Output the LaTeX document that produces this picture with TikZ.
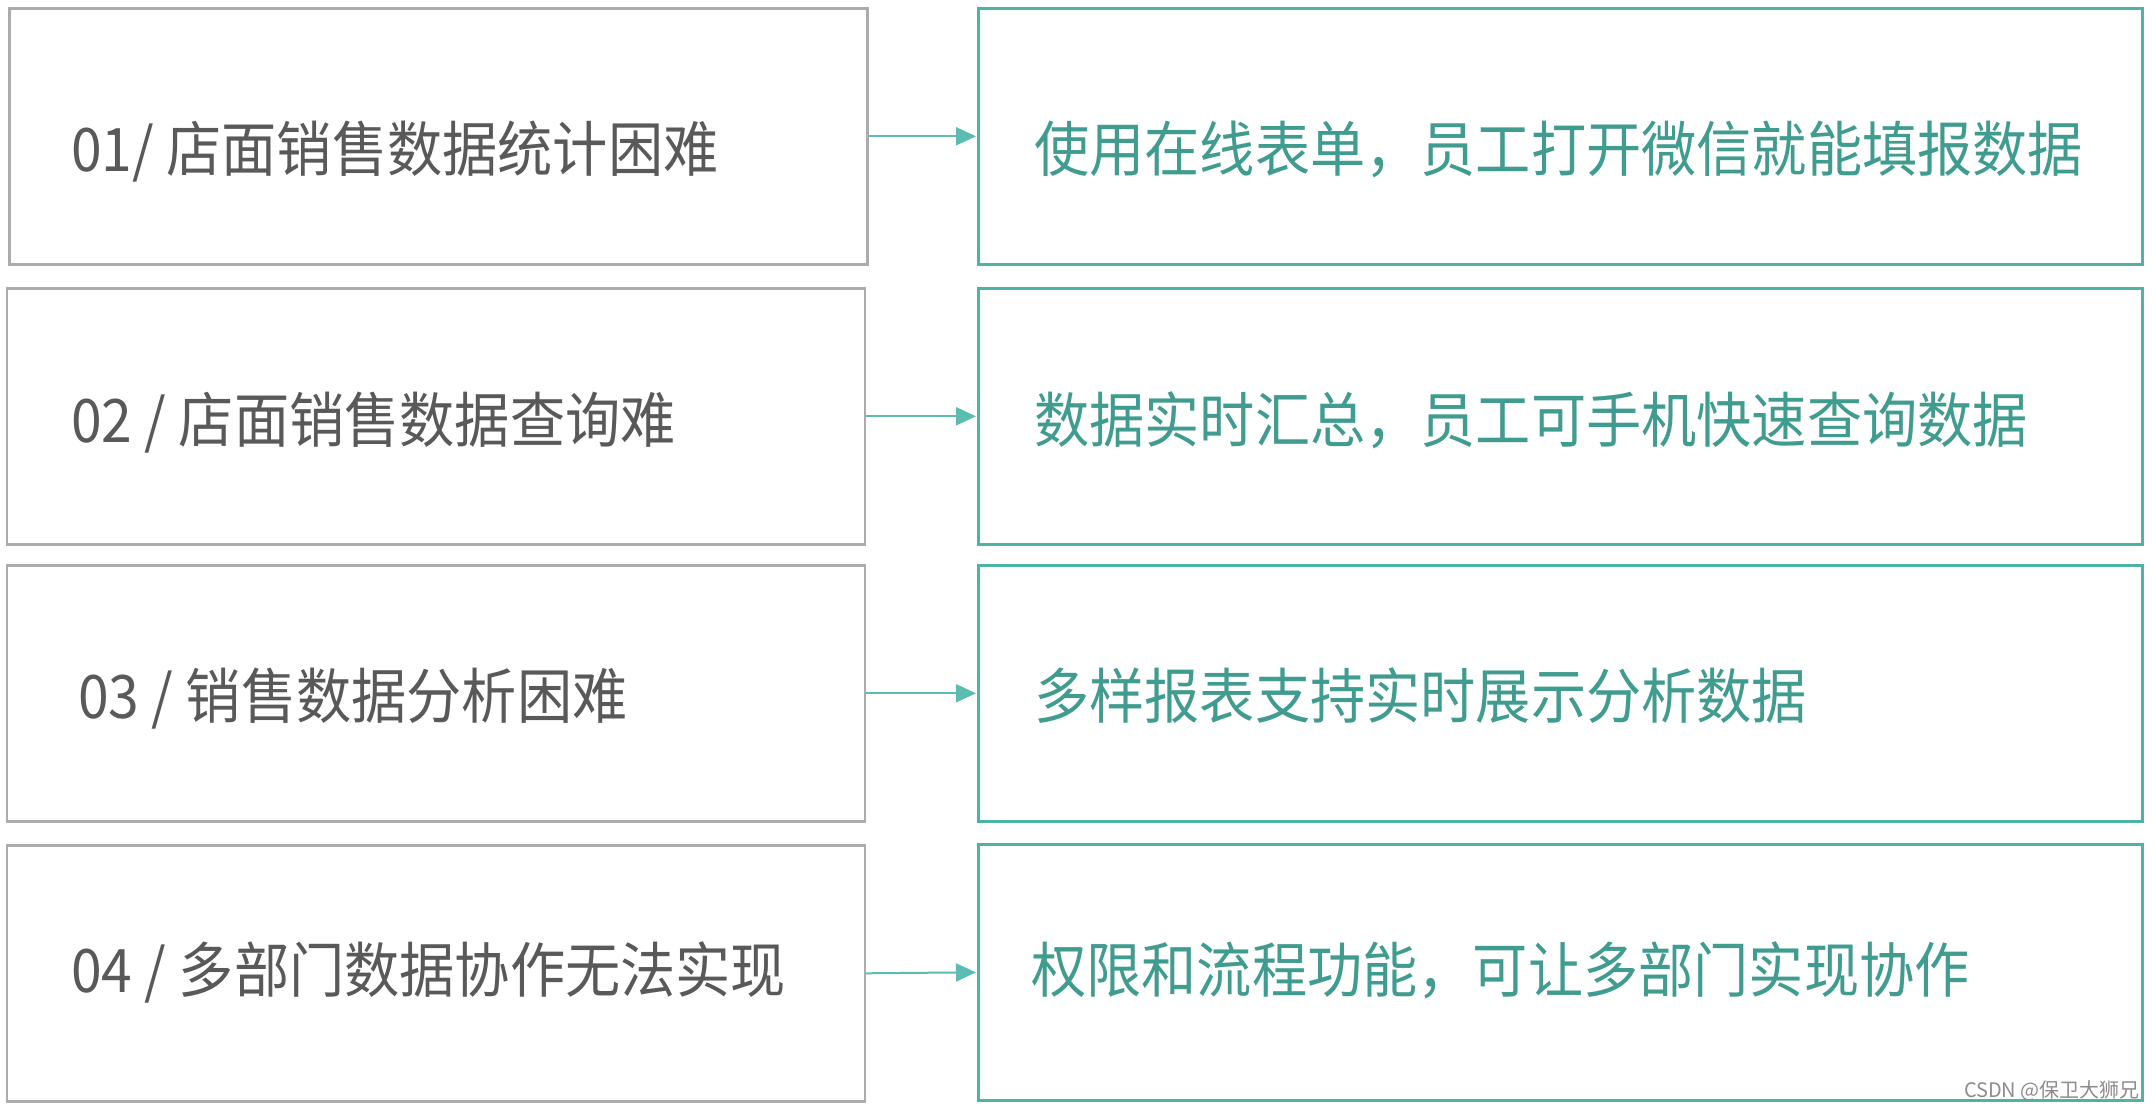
\documentclass[tikz,border=0pt]{standalone}
\usepackage{fontspec}
\newfontfamily\cjk[FakeStretch=0.92]{Noto Sans CJK SC}
\newfontfamily\cjkwm{Noto Sans CJK SC}
\usetikzlibrary{arrows.meta}
\definecolor{probgray}{HTML}{ABABAB}
\definecolor{probtextc}{HTML}{595959}
\definecolor{solteal}{HTML}{4DB3A7}
\definecolor{soltextc}{HTML}{3F9C8E}
\definecolor{arrowteal}{HTML}{5BBDB2}
\definecolor{wmgray}{HTML}{8C8C8C}
\begin{document}
\begin{tikzpicture}[x=1pt,y=-1pt,
  probbox/.style={draw=probgray, line width=2.6pt, anchor=north west, inner sep=0pt,
    minimum width=858pt, minimum height=256pt},
  solbox/.style={draw=solteal, line width=2.6pt, anchor=north west, inner sep=0pt,
    minimum width=1164pt, minimum height=256pt},
  probtext/.style={anchor=base west, inner sep=0pt, text=probtextc,
    font=\cjk\fontsize{60}{64}\selectfont},
  soltext/.style={anchor=base west, inner sep=0pt, text=soltextc,
    font=\cjk\fontsize{60}{64}\selectfont},
  conn/.style={draw=arrowteal, line width=2pt, -{Triangle[length=20pt,width=18pt]}, shorten >=1pt}
]
\useasboundingbox (0,0) rectangle (2156,1110);
\fill[white] (0,0) rectangle (2156,1110);

% problem boxes
\node[probbox] (p1) at (8,7) {};
\node[probbox] (p2) at (5.5,287) {};
\node[probbox] (p3) at (5.5,564) {};
\node[probbox] (p4) at (5.5,844) {};

% solution boxes
\node[solbox] (s1) at (977,7) {};
\node[solbox] (s2) at (977,287) {};
\node[solbox] (s3) at (977,564) {};
\node[solbox] (s4) at (977,843) {};

% texts
\node[probtext] (pt1) at (71,172) {01/ 店面销售数据统计困难};
\node[probtext] (pt2) at (71,442) {02 / 店面销售数据查询难};
\node[probtext] (pt3) at (78,718) {03 / 销售数据分析困难};
\node[probtext] (pt4) at (71,992) {04 / 多部门数据协作无法实现};

\node[soltext] (st1) at (1034,172) {使用在线表单，员工打开微信就能填报数据};
\node[soltext] (st2) at (1034,442) {数据实时汇总，员工可手机快速查询数据};
\node[soltext] (st3) at (1034,718) {多样报表支持实时展示分析数据};
\node[soltext] (st4) at (1031,992) {权限和流程功能，可让多部门实现协作};

% connectors
\draw[conn] (p1.east) -- (s1.west);
\draw[conn] (p2.east) -- (s2.west);
\draw[conn] (p3.east) -- (s3.west);
\draw[conn] (p4.east) -- (s4.west);

% watermark
\node[anchor=base east, inner sep=0pt, text=wmgray, font=\cjkwm\fontsize{20}{22}\selectfont] (wm) at (2140,1097) {CSDN @保卫大狮兄};
\end{tikzpicture}
\end{document}
